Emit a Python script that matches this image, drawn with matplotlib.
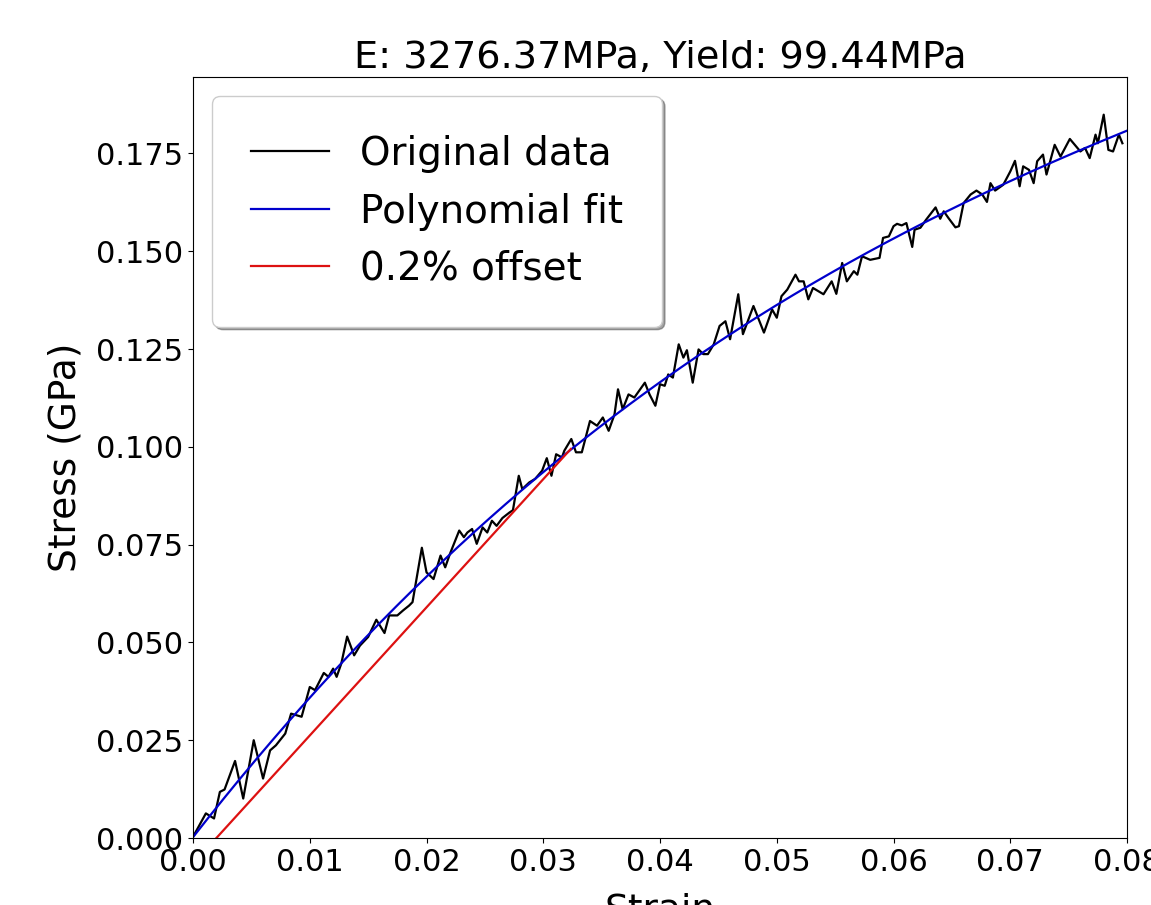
import matplotlib
matplotlib.use("Agg")
import matplotlib.pyplot as plt
import numpy as np

# values
strain = [0.0000, 0.0011, 0.0018, 0.0023, 0.0027, 0.0036, 0.0043, 0.0052, 0.0060, 0.0066,
          0.0071, 0.0079, 0.0084, 0.0093, 0.0100, 0.01045, 0.0112, 0.0116, 0.0120, 0.0123,
          0.0127, 0.0132, 0.0138, 0.0143, 0.0150, 0.0157, 0.0164, 0.0168, 0.0175, 0.0180,
          0.0185, 0.0188, 0.0196, 0.0200, 0.0206, 0.0212, 0.0216, 0.0220, 0.0228, 0.0232,
          0.0235, 0.0239, 0.0243, 0.0248, 0.0252, 0.0256, 0.0260, 0.0265, 0.0271, 0.0274,
          0.0279, 0.0282, 0.0288, 0.0293, 0.0299, 0.0303, 0.0307, 0.0311, 0.0316, 0.0318,
          0.0324, 0.0328, 0.0333, 0.0340, 0.0346, 0.0351, 0.0356, 0.0361, 0.0364, 0.0368,
          0.0373, 0.0378, 0.0387, 0.0391, 0.0396, 0.0400, 0.0404, 0.0407, 0.0411, 0.0416,
          0.0420, 0.0423, 0.0428, 0.0433, 0.0437, 0.0441, 0.0446, 0.0451, 0.0456, 0.0460,
          0.0467, 0.0471, 0.0480, 0.0489, 0.0496, 0.0500, 0.0504, 0.0509, 0.0516, 0.0519,
          0.0523, 0.0527, 0.0531, 0.0540, 0.0547, 0.0551, 0.0556, 0.0560, 0.0566, 0.0569,
          0.0573, 0.0580, 0.0588, 0.0591, 0.0596, 0.0600, 0.0603, 0.0607, 0.0611, 0.0616,
          0.0618, 0.0623, 0.0628, 0.0636, 0.0640, 0.0643, 0.0647, 0.0653, 0.0656, 0.0660,
          0.0666, 0.0671, 0.0676, 0.0680, 0.0683, 0.0687, 0.0694, 0.0700, 0.0704, 0.0708,
          0.0711, 0.0716, 0.0720, 0.0723, 0.0728, 0.0731, 0.0738, 0.0743, 0.0751, 0.0760,
          0.0764, 0.0768, 0.0773, 0.0775, 0.0780, 0.0784, 0.0788, 0.0793, 0.0796]
stress = [0.0003, 0.0063, 0.0050, 0.0118, 0.0124, 0.0197, 0.0101, 0.0250, 0.0152, 0.0224,
          0.0237, 0.0267, 0.0318, 0.0310, 0.0386, 0.0378, 0.0422, 0.0412, 0.0433, 0.0412,
          0.0446, 0.0515, 0.0467, 0.0492, 0.0514, 0.0558, 0.0524, 0.0569, 0.0569, 0.0582,
          0.0594, 0.0603, 0.0742, 0.0679, 0.0662, 0.0722, 0.0692, 0.0726, 0.0786, 0.0769,
          0.0781, 0.0790, 0.0752, 0.0794, 0.0781, 0.0811, 0.0798, 0.0818, 0.0832, 0.0838,
          0.0926, 0.0892, 0.0909, 0.0918, 0.0939, 0.0971, 0.0926, 0.0981, 0.0973, 0.0990,
          0.1020, 0.0986, 0.0986, 0.1066, 0.1054, 0.1075, 0.1041, 0.1083, 0.1147, 0.1096,
          0.1134, 0.1126, 0.1164, 0.1134, 0.1105, 0.1160, 0.1156, 0.1185, 0.1177, 0.1262,
          0.1228, 0.1247, 0.1164, 0.1249, 0.1237, 0.1237, 0.1262, 0.1309, 0.1321, 0.1275,
          0.1390, 0.1288, 0.1360, 0.1292, 0.1351, 0.1330, 0.1385, 0.1402, 0.1440, 0.1423,
          0.1423, 0.1377, 0.1406, 0.1390, 0.1423, 0.1391, 0.1470, 0.1423, 0.1449, 0.1440,
          0.1487, 0.1478, 0.1483, 0.1534, 0.1538, 0.1564, 0.1570, 0.1566, 0.1572, 0.1511,
          0.1555, 0.1560, 0.1581, 0.1612, 0.1583, 0.1602, 0.1585, 0.1561, 0.1564, 0.1623,
          0.1645, 0.1655, 0.1645, 0.1626, 0.1674, 0.1655, 0.1670, 0.1704, 0.1731, 0.1666,
          0.1717, 0.1708, 0.1674, 0.1730, 0.1747, 0.1696, 0.1772, 0.1742, 0.1787, 0.1755,
          0.1764, 0.1738, 0.1798, 0.1776, 0.1849, 0.1759, 0.1755, 0.1798, 0.1776]

E_mpa = 3276.37
yield_mpa = 99.44
offset = 0.002

strain = np.array(strain)
stress = np.array(stress)

# polynomial fit of the data
coeffs = np.polyfit(strain, stress, 3)
fit_x = np.linspace(0, 0.08, 300)
fit_y = np.polyval(coeffs, fit_x)

# 0.2% offset line up to the yield point
E_gpa = E_mpa / 1000
yield_strain = offset + (yield_mpa / 1000) / E_gpa
off_x = np.linspace(offset, yield_strain, 50)
off_y = E_gpa * (off_x - offset)

fig = plt.figure(figsize=(11.51, 9.05), dpi=100)
ax = fig.add_axes([0.1677, 0.074, 0.8115, 0.8412])

ax.plot(strain, stress, color="black", lw=1.6, label="Original data")
ax.plot(fit_x, fit_y, color="#0000cc", lw=1.6, label="Polynomial fit")
ax.plot(off_x, off_y, color="#dd1111", lw=1.6, label="0.2% offset")

ax.set_xlim(0, 0.08)
ax.set_ylim(0, 0.1946)
ax.set_xticks(np.arange(0, 0.081, 0.01))
ax.set_yticks(np.arange(0, 0.176, 0.025))
ax.xaxis.set_major_formatter(matplotlib.ticker.FormatStrFormatter("%.2f"))
ax.yaxis.set_major_formatter(matplotlib.ticker.FormatStrFormatter("%.3f"))
ax.tick_params(labelsize=22)

ax.set_xlabel("Strain", fontsize=27, labelpad=11)
ax.set_ylabel("Stress (GPa)", fontsize=27, labelpad=9)
ax.set_title(f"E: {E_mpa:.2f}MPa, Yield: {yield_mpa:.2f}MPa", fontsize=27.5)

ax.legend(loc="upper left", fontsize=28, shadow=True, borderpad=1.0, borderaxespad=0.5)

fig.savefig("out.png", dpi=100)
